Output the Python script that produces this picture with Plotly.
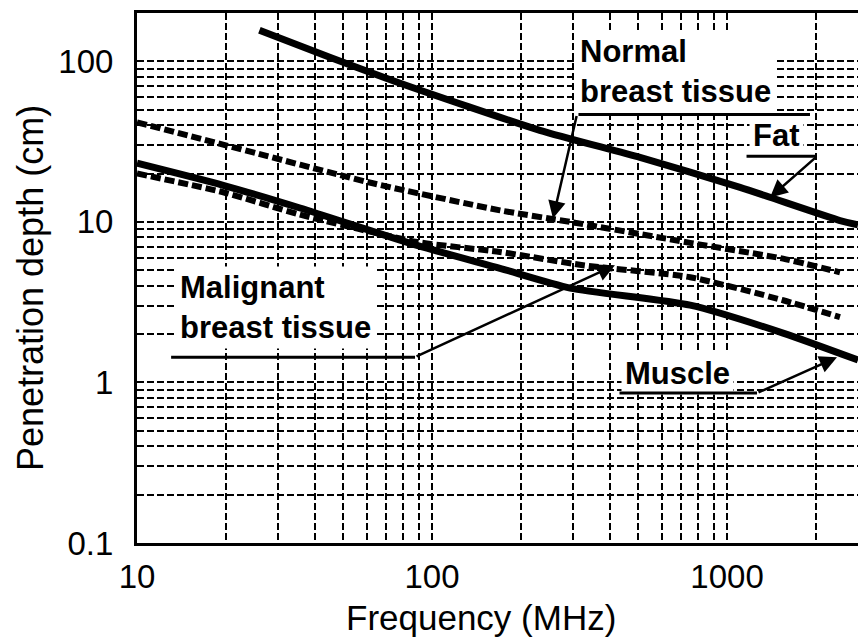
import numpy as np
import plotly.graph_objects as go

# ---- data (frequency in MHz, penetration depth in cm) ----
fat_freq = [26, 45, 78, 232, 507, 1107, 2415, 2780]
fat_depth = [156, 106, 73, 37.2, 25.2, 16.4, 10.2, 9.6]

normal_freq = [10, 20, 63, 170, 294, 750, 1549, 2415]
normal_depth = [41.7, 30, 17.4, 11.8, 10.0, 7.4, 5.9, 4.85]

malignant_freq = [10, 19.6, 35.7, 89, 170, 325, 750, 1549, 2415]
malignant_depth = [20.0, 15.3, 11.1, 7.5, 6.5, 5.37, 4.52, 3.25, 2.55]

muscle_freq = [10, 19.6, 35.7, 89, 170, 294, 750, 1549, 2780]
muscle_depth = [23.2, 16.9, 12.2, 7.14, 5.14, 3.87, 3.03, 2.03, 1.38]

# axis ticks
x_mult = [m for e in (1, 2, 3) for m in range(1, 10)]
x_tickvals = [m * 10 ** e for e in (1, 2, 3) for m in range(1, 10)]
x_ticktext = [str(v) if m == 1 else "" for v, m in zip(x_tickvals, x_mult)]
y_tickvals = [m * 10.0 ** e for e in (-1, 0, 1, 2) for m in range(1, 10)]
y_labels = {0.1: "0.1", 1.0: "1", 10.0: "10", 100.0: "100"}
y_ticktext = [y_labels.get(round(v, 6), "") for v in y_tickvals]

# labels: text, anchor (freq, depth), underline start, bend, arrow tip
labels = [
    dict(text="<b>Normal</b><br><b>breast tissue</b>", pos=(307.6, 87.0), u0=(310, 46.7), bend=(1911, 46.7), tip=(257, 10.5), tip_from=(310, 46.7)),
    dict(text="<b>Fat</b>", pos=(1188, 34.6), u0=(1151, 25.6), bend=(2018, 25.6), tip=(1399, 14.2), tip_from=(2018, 25.6)),
    dict(text="<b>Malignant</b><br><b>breast tissue</b>", pos=(13.6, 2.95), u0=(12.9, 1.437), bend=(87.6, 1.437), tip=(417, 5.37), tip_from=(87.6, 1.437)),
    dict(text="<b>Muscle</b>", pos=(437, 1.13), u0=(427, 0.858), bend=(1264, 0.858), tip=(2360, 1.437), tip_from=(1264, 0.858)),
]

fig = go.Figure()

fig.add_trace(go.Scatter(x=fat_freq, y=fat_depth, mode="lines",
                         line=dict(color="black", width=7, shape="spline", smoothing=0.6), hoverinfo="skip"))
fig.add_trace(go.Scatter(x=normal_freq, y=normal_depth, mode="lines",
                         line=dict(color="black", width=6, dash="10px,4px", shape="spline", smoothing=0.6), hoverinfo="skip"))
fig.add_trace(go.Scatter(x=malignant_freq, y=malignant_depth, mode="lines",
                         line=dict(color="black", width=6, dash="10px,4px", shape="spline", smoothing=0.6), hoverinfo="skip"))
fig.add_trace(go.Scatter(x=muscle_freq, y=muscle_depth, mode="lines",
                         line=dict(color="black", width=7, shape="spline", smoothing=0.6), hoverinfo="skip"))

L = np.log10
annotations = []
for lab in labels:
    annotations.append(dict(
        x=L(lab["pos"][0]), y=L(lab["pos"][1]), xref="x", yref="y",
        text=lab["text"], showarrow=False, xanchor="left", yanchor="middle", align="left",
        font=dict(family="Liberation Sans, Arial", size=31, color="black"),
        bgcolor="white", borderpad=3))
for lab in labels:
    # underline (no head)
    annotations.append(dict(
        x=L(lab["bend"][0]), y=L(lab["bend"][1]),
        xref="x", yref="y", ax=L(lab["u0"][0]), ay=L(lab["u0"][1]), axref="x", ayref="y",
        text="", showarrow=True, arrowhead=0, arrowwidth=3, arrowcolor="black",
        standoff=0, startstandoff=0))
    # leader with arrowhead
    annotations.append(dict(
        x=L(lab["tip"][0]), y=L(lab["tip"][1]), xref="x", yref="y",
        ax=L(lab["tip_from"][0]), ay=L(lab["tip_from"][1]), axref="x", ayref="y",
        text="", showarrow=True, arrowhead=2, arrowsize=1.4, arrowwidth=2.5, arrowcolor="black",
        standoff=0, startstandoff=0))

# axis titles
annotations.append(dict(text="Frequency (MHz)", xref="paper", yref="paper", x=0.477, y=-0.1415,
                        xanchor="center", yanchor="middle", showarrow=False,
                        font=dict(family="Liberation Sans, Arial", size=35, color="black")))
annotations.append(dict(text="Penetration depth (cm)", xref="paper", yref="paper", x=-0.1484, y=0.481,
                        xanchor="center", yanchor="middle", showarrow=False, textangle=-90,
                        font=dict(family="Liberation Sans, Arial", size=36, color="black")))

grid_common = dict(showgrid=True, gridcolor="black", gridwidth=2.2, griddash="7px,3px",
                   showline=True, linecolor="black", linewidth=3, ticks="",
                   tickfont=dict(family="Liberation Sans, Arial", size=33, color="black"),
                   zeroline=False)

fig.update_layout(
    width=858, height=640,
    margin=dict(l=137, r=0, t=13, b=97),
    paper_bgcolor="white", plot_bgcolor="white",
    showlegend=False,
    xaxis=dict(type="log", range=[1, 3.444], tickmode="array", tickvals=x_tickvals, ticktext=x_ticktext,
               mirror=True, ticklabelstandoff=2, **grid_common),
    yaxis=dict(type="log", range=[-1, np.log10(200)], tickmode="array", tickvals=y_tickvals, ticktext=y_ticktext,
               mirror=False, ticklabelstandoff=14, **grid_common),
    annotations=annotations,
)

fig.write_html("out.html")
